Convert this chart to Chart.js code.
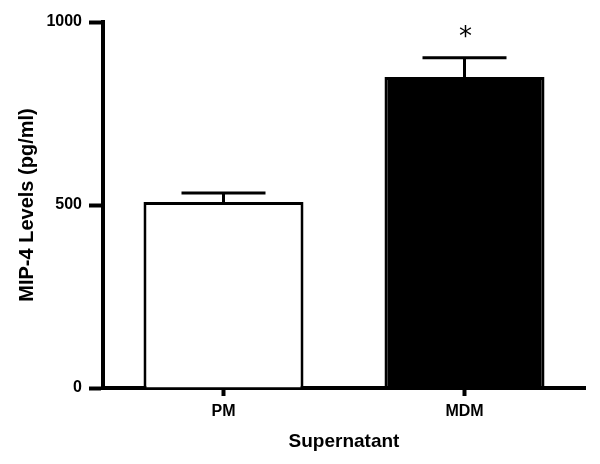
<!DOCTYPE html>
<html>
<head>
<meta charset="utf-8">
<script src="https://cdn.jsdelivr.net/npm/chart.js@4.4.0/dist/chart.umd.min.js"></script>
<style>
  html, body { margin: 0; padding: 0; background: #fff; }
  #wrap { width: 600px; height: 464px; }
</style>
</head>
<body>
<div id="wrap"><canvas id="myChart" width="600" height="464"></canvas></div>
<script>
// Data

const categories = ['PM', 'MDM'];
const meanLevels = [508, 850];
const semLevels = [25, 52];
const significance = ['', '*'];
const yTicks = [0, 500, 1000];

const fillColors = ['#ffffff', '#000000'];

// error bars + asterisk
const errorBars = {
    id: 'errorBars',
    afterDatasetsDraw(chart){
        const ctx = chart.ctx;
        const yScale = chart.scales.y;
        const meta = chart.getDatasetMeta(0);
        ctx.save();
        ctx.strokeStyle = '#000';
        ctx.lineWidth = 3;
        meta.data.forEach((bar, i) => {
            const top = yScale.getPixelForValue(meanLevels[i] + semLevels[i]);
            ctx.beginPath();
            ctx.moveTo(bar.x, bar.y);
            ctx.lineTo(bar.x, top);
            ctx.moveTo(bar.x - 42, top);
            ctx.lineTo(bar.x + 42, top);
            ctx.stroke();
            if (significance[i]) {
                ctx.fillStyle = '#000';
                ctx.font = '26px "DejaVu Sans"';
                ctx.textAlign = 'center';
                ctx.textBaseline = 'middle';
                ctx.fillText(significance[i], bar.x + 1, top - 20);
            }
        });
        ctx.restore();
    }
};

const ctx = document.getElementById('myChart');

const myChart = new Chart(ctx, {
    type: 'bar',
    data: {
        labels: categories,
        datasets: [{
            data: meanLevels,
            backgroundColor: fillColors,
            borderColor: '#000',
            borderWidth: 3,
            barPercentage: 0.664,
            categoryPercentage: 1
        }]
    },
    options: {
        responsive: false,
        animation: false,
        devicePixelRatio: 1,
        layout: {
            padding: { top: 22, right: 15, left: 0, bottom: 0 }
        },
        plugins: {
            legend: { display: false },
            tooltip: { enabled: false }
        },
        scales: {
            x: {
                afterFit(scale){ scale.height = 76; },
                grid: {
                    drawOnChartArea: false,
                    offset: false,
                    tickLength: 8,
                    tickWidth: 4,
                    color: '#000'
                },
                border: { color: '#000', width: 4 },
                ticks: {
                    color: '#000',
                    padding: 6,
                    font: { family: '"Liberation Sans", Arial', size: 16, weight: 'bold' }
                },
                title: {
                    display: true,
                    text: 'Supernatant',
                    color: '#000',
                    padding: { top: 0, bottom: 11 },
                    font: { family: '"Liberation Sans", Arial', size: 19, weight: 'bold' }
                }
            },
            y: {
                min: 0,
                max: 1000,
                afterFit(scale){ scale.width = 103; },
                afterBuildTicks(scale){
                    scale.ticks = yTicks.map(v => ({ value: v }));
                },
                grid: {
                    drawOnChartArea: false,
                    tickLength: 14,
                    tickWidth: 4,
                    color: '#000'
                },
                border: { color: '#000', width: 4 },
                ticks: {
                    color: '#000',
                    padding: 7,
                    callback: (v) => String(v),
                    font: { family: '"Liberation Sans", Arial', size: 16, weight: 'bold' }
                },
                title: {
                    display: true,
                    text: 'MIP-4 Levels (pg/ml)',
                    color: '#000',
                    padding: { top: 15, bottom: 0 },
                    font: { family: '"Liberation Sans", Arial', size: 20, weight: 'bold' }
                }
            }
        }
    },
    plugins: [errorBars]
});
</script>
</body>
</html>
